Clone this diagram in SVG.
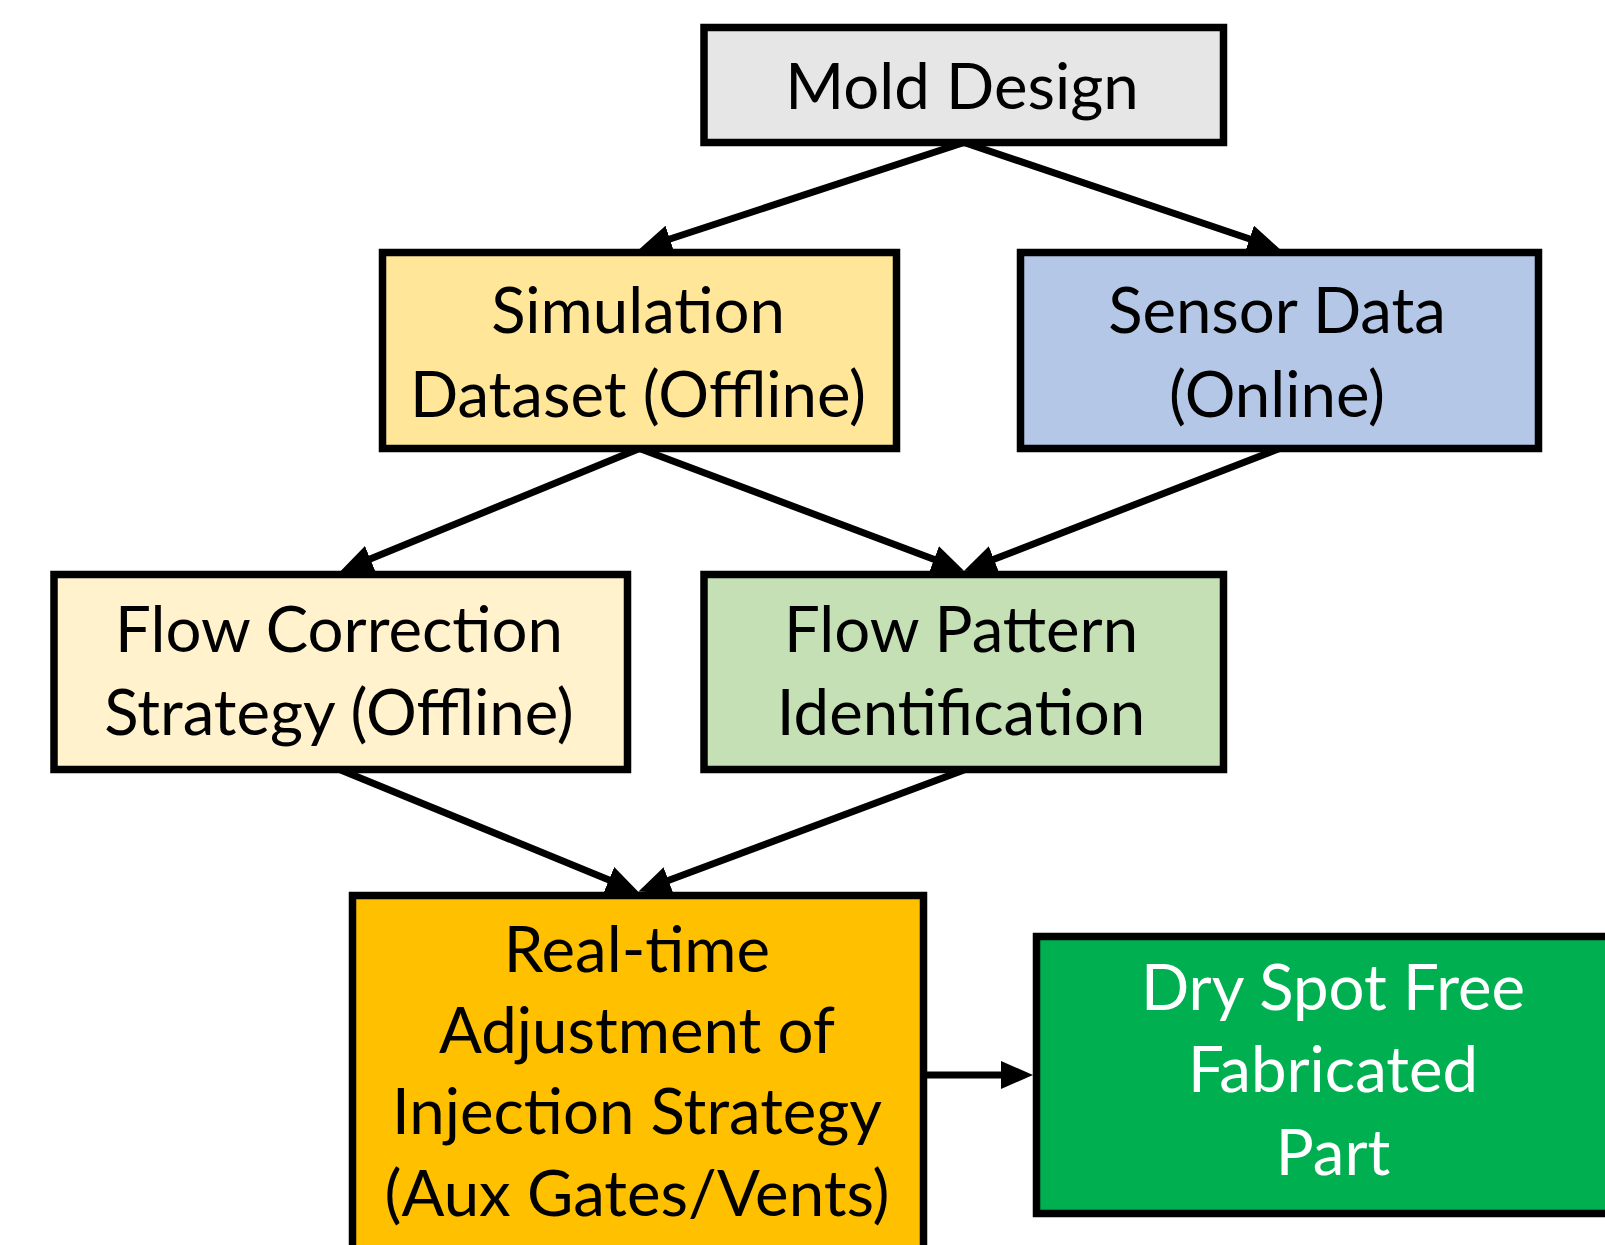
<svg xmlns="http://www.w3.org/2000/svg" width="1605" height="1245" viewBox="0 0 1605 1245">
  <style>
    .box { stroke: #000; stroke-width: 7.5; }
    .lbl { font-family: Lato, "Liberation Sans", sans-serif; font-size: 63.5px; fill: #000; text-anchor: middle; }
    .lbl-w { fill: #fff; }
    .conn { stroke: #000; stroke-width: 7; fill: none; marker-end: url(#arrow); }
  </style>
  <defs>
    <marker id="arrow" viewBox="0 0 32 28" markerWidth="32" markerHeight="28" refX="16" refY="14" orient="auto" markerUnits="userSpaceOnUse">
      <path d="M0,0 L32,14 L0,28 Z" fill="#000"/>
    </marker>
  </defs>
  <rect width="1605" height="1245" fill="#fff"/>

  <g id="mold-design">
    <rect class="box" x="704" y="27.5" width="519.5" height="115" fill="#E7E6E6"/>
    <text class="lbl" x="962" y="108.5">Mold Design</text>
  </g>

  <g id="simulation-dataset">
    <rect class="box" x="382.5" y="252.5" width="514" height="196" fill="#FFE699"/>
    <text class="lbl" x="638" y="333">Simulation</text>
    <text class="lbl" x="638" y="416.5">Dataset (Offline)</text>
  </g>

  <g id="sensor-data">
    <rect class="box" x="1020.5" y="252.5" width="518" height="196" fill="#B4C7E7"/>
    <text class="lbl" x="1277" y="333">Sensor Data</text>
    <text class="lbl" x="1277" y="416.5">(Online)</text>
  </g>

  <g id="flow-correction">
    <rect class="box" x="54" y="574.5" width="573.5" height="195" fill="#FFF2CC"/>
    <text class="lbl" x="339" y="652">Flow Correction</text>
    <text class="lbl" x="339" y="735">Strategy (Offline)</text>
  </g>

  <g id="flow-pattern">
    <rect class="box" x="704" y="574.5" width="519.5" height="195" fill="#C5E0B4"/>
    <text class="lbl" x="961" y="652">Flow Pattern</text>
    <text class="lbl" x="961" y="735">Identification</text>
  </g>

  <g id="realtime-adjustment">
    <rect class="box" x="352.5" y="895.5" width="571" height="400" fill="#FFC000"/>
    <text class="lbl" x="637" y="972">Real-time</text>
    <text class="lbl" x="637" y="1053">Adjustment of</text>
    <text class="lbl" x="637" y="1134">Injection Strategy</text>
    <text class="lbl" x="637" y="1216">(Aux Gates/Vents)</text>
  </g>

  <g id="dry-spot-free">
    <rect class="box" x="1036.5" y="936.5" width="600" height="277" fill="#00B050"/>
    <text class="lbl lbl-w" x="1333" y="1010">Dry Spot Free</text>
    <text class="lbl lbl-w" x="1333" y="1092">Fabricated</text>
    <text class="lbl lbl-w" x="1333" y="1175">Part</text>
  </g>

  <!-- connectors: line ends sit 16px short of the tip; the marker supplies the rest -->
  <g id="connectors">
    <line class="conn" x1="964" y1="142.5" x2="654.7" y2="244"/>
    <line class="conn" x1="964" y1="142.5" x2="1264.6" y2="244"/>
    <line class="conn" x1="639.5" y1="448.5" x2="355.5" y2="565"/>
    <line class="conn" x1="639.5" y1="448.5" x2="949" y2="565"/>
    <line class="conn" x1="1279.5" y1="448.5" x2="979" y2="565"/>
    <line class="conn" x1="340.7" y1="770" x2="623.7" y2="886"/>
    <line class="conn" x1="964" y1="770" x2="653.5" y2="886"/>
    <line class="conn" x1="924" y1="1075" x2="1017" y2="1075"/>
  </g>
</svg>
